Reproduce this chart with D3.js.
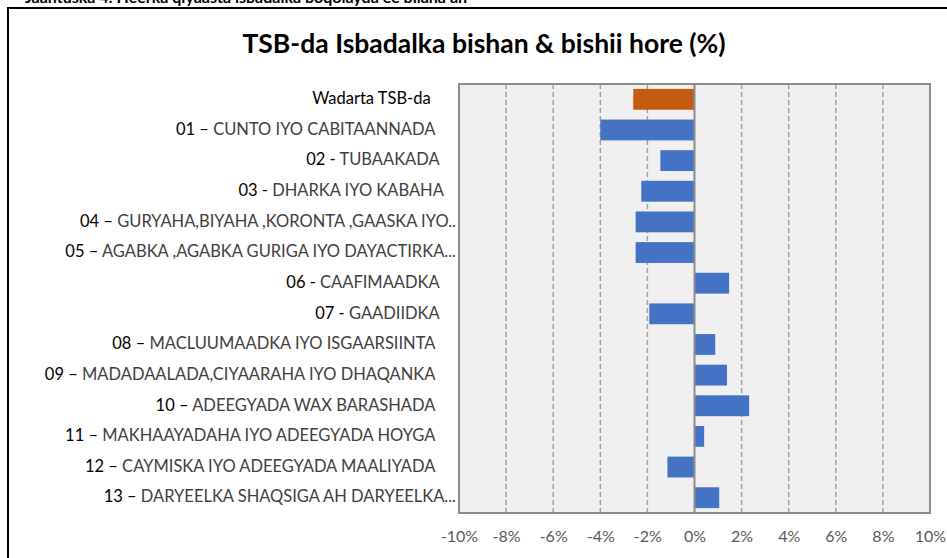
<!DOCTYPE html>
<meta charset="utf-8">
<html>
<head>
  <script src="https://cdnjs.cloudflare.com/ajax/libs/d3/7.8.5/d3.min.js"></script>
  <style>
    body { margin: 0; background: #fff; }
    text { font-family: Lato, "Open Sans", sans-serif; }
  </style>
</head>
<body>
  <div id="chart"></div>
</body>
<script>
// category prefixes (black) and names (grey), trailing spaces as in the sheet
var prefixes = ["", "01 \u2013 ", "02 - ", "03 - ", "04 \u2013 ", "05 \u2013 ", "06 - ", "07 - ",
  "08 \u2013 ", "09 \u2013 ", "10 \u2013 ", "11 \u2013 ", "12 \u2013 ", "13 \u2013 "];
var names = [
  "Wadarta TSB-da      ",
  "CUNTO IYO CABITAANNADA     ",
  "TUBAAKADA    ",
  "DHARKA IYO KABAHA   ",
  "GURYAHA,BIYAHA ,KORONTA ,GAASKA IYO..",
  "AGABKA ,AGABKA GURIGA IYO DAYACTIRKA...",
  "CAAFIMAADKA    ",
  "GAADIIDKA    ",
  "MACLUUMAADKA IYO ISGAARSIINTA     ",
  "MADADAALADA,CIYAARAHA IYO DHAQANKA     ",
  "ADEEGYADA WAX BARASHADA     ",
  "MAKHAAYADAHA IYO ADEEGYADA HOYGA     ",
  "CAYMISKA IYO ADEEGYADA MAALIYADA     ",
  "DARYEELKA SHAQSIGA AH DARYEELKA..."
];
var values = [-2.6, -4.0, -1.45, -2.26, -2.5, -2.5, 1.47, -1.92, 0.88, 1.38, 2.32, 0.41, -1.15, 1.05];
var xTicks = [-10, -8, -6, -4, -2, 0, 2, 4, 6, 8, 10];

var titleText = "TSB-da Isbadalka bishan & bishii hore (%)";
var captionText = "Jaantuska  4: Heerka qiyaasta isbadalka boqolayda ee bilaha ah";

var width = 947, height = 558;
var svg = d3.select("#chart").append("svg")
  .attr("width", width).attr("height", height);

// caption above the chart box (cut by the page edge, as in the original)
svg.append("text")
  .attr("x", 25).attr("y", 3)
  .style("font-weight", "bold").style("font-size", "16px")
  .attr("fill", "#000")
  .text(captionText);

// chart frame
svg.append("path")
  .attr("d", "M8,570V8H960")
  .attr("fill", "none").attr("stroke", "#000").attr("stroke-width", 2);

var plot = { left: 459, right: 930, top: 84, bottom: 513 };

var x = d3.scaleLinear().domain([-10, 10]).range([plot.left, plot.right]);
var y = d3.scaleBand()
  .domain(d3.range(names.length))
  .range([plot.top, plot.bottom])
  .paddingInner(0.32).paddingOuter(0.16);

svg.append("rect")
  .attr("x", plot.left).attr("y", plot.top)
  .attr("width", plot.right - plot.left).attr("height", plot.bottom - plot.top)
  .attr("fill", "#f0f0f0");

// dashed gridlines
svg.append("g").selectAll("line")
  .data(xTicks.filter(function(d){ return d !== 0 && Math.abs(d) !== 10; }))
  .enter().append("line")
  .attr("x1", function(d){ return x(d); }).attr("x2", function(d){ return x(d); })
  .attr("y1", plot.top).attr("y2", plot.bottom)
  .attr("stroke", "#a0a0a0").attr("stroke-width", 1.5)
  .attr("stroke-dasharray", "5,3");

// bars
svg.append("g").selectAll("rect")
  .data(values)
  .enter().append("rect")
  .attr("x", function(d){ return x(Math.min(0, d)); })
  .attr("y", function(d, i){ return y(i); })
  .attr("width", function(d){ return Math.abs(x(d) - x(0)); })
  .attr("height", y.bandwidth())
  .attr("fill", function(d, i){ return i === 0 ? "#c55a11" : "#4472c4"; });

// zero line
svg.append("line")
  .attr("x1", x(0)).attr("x2", x(0))
  .attr("y1", plot.top).attr("y2", plot.bottom)
  .attr("stroke", "#8c8c8c").attr("stroke-width", 2);

// plot border
svg.append("rect")
  .attr("x", plot.left).attr("y", plot.top)
  .attr("width", plot.right - plot.left).attr("height", plot.bottom - plot.top)
  .attr("fill", "none").attr("stroke", "#8c8c8c").attr("stroke-width", 2);

// x axis labels
var xAxis = d3.axisBottom(x)
  .tickValues(xTicks)
  .tickSize(0).tickPadding(18)
  .tickFormat(function(d){ return d + "%"; });
var xg = svg.append("g")
  .attr("transform", "translate(0," + plot.bottom + ")")
  .call(xAxis);
xg.select(".domain").remove();
xg.selectAll("text")
  .style("font-family", "Lato, sans-serif")
  .style("font-size", "16px")
  .attr("fill", "#595959");

// category labels
var labels = svg.append("g").selectAll("text")
  .data(names)
  .enter().append("text")
  .attr("x", 456)
  .attr("y", function(d, i){ return y(i) + y.bandwidth() / 2 - 1; })
  .attr("dy", "0.35em")
  .attr("text-anchor", "end")
  .style("font-size", "16.5px")
  .style("white-space", "pre");
labels.append("tspan")
  .attr("fill", "#000")
  .text(function(d, i){ return prefixes[i]; });
labels.append("tspan")
  .attr("fill", function(d, i){ return i === 0 ? "#000" : "#404040"; })
  .text(function(d){ return d; });

// title
svg.append("text")
  .attr("x", 484).attr("y", 53)
  .attr("text-anchor", "middle")
  .style("font-weight", "bold").style("font-size", "26.5px")
  .attr("fill", "#000")
  .text(titleText);
</script>
</html>
